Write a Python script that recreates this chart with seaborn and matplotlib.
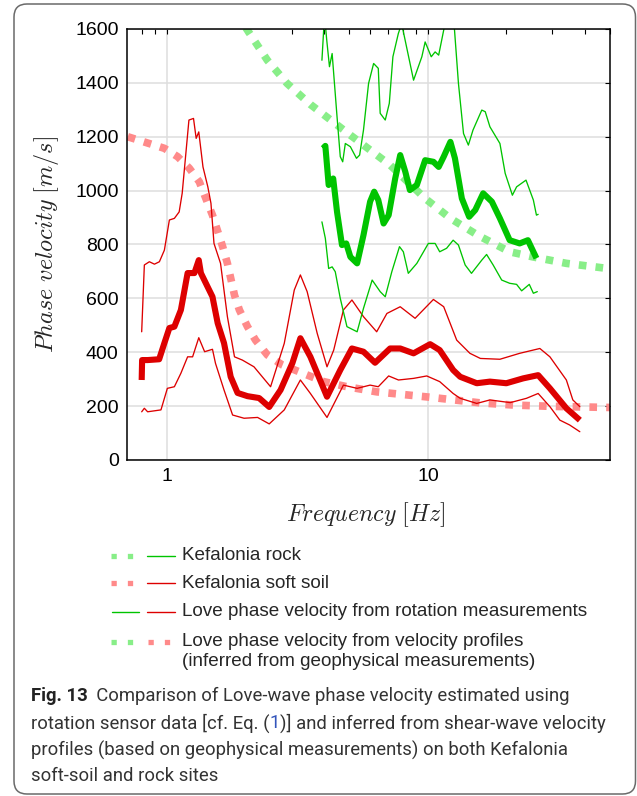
import matplotlib
matplotlib.use('Agg')
import matplotlib.pyplot as plt
from matplotlib import font_manager
from matplotlib.patches import FancyBboxPatch
from matplotlib.lines import Line2D
from matplotlib.transforms import IdentityTransform
from matplotlib.ticker import FixedLocator, NullFormatter, FuncFormatter
import seaborn as sns

# rotation-derived Love phase velocity, soft soil (median, upper, lower)
soil_f = [0.797, 0.80, 0.84, 0.93, 0.974, 1.018, 1.064, 1.127, 1.196, 1.27, 1.32, 1.345, 1.427, 1.49,
          1.56, 1.65, 1.75, 1.86, 2.03, 2.25, 2.46, 2.72, 3.02, 3.24, 3.54, 4.10, 4.61, 5.11, 5.66,
          6.27, 7.16, 7.83, 8.81, 10.2, 11.1, 12.5, 13.3, 15.4, 17.3, 20.0, 23.2, 26.5, 29.4, 34.0, 38.3]
soil_v = [297, 371, 371, 374, 434, 490, 495, 557, 694, 694, 742, 694, 643, 606,
          508, 434, 309, 249, 237, 230, 197, 260, 360, 452, 383, 235, 334, 414, 402,
          361, 414, 414, 396, 430, 408, 334, 309, 285, 291, 285, 303, 315, 266, 192, 148]

soil_up_f = [0.797, 0.816, 0.853, 0.892, 0.932, 0.974, 1.018, 1.064, 1.11, 1.14, 1.21, 1.26, 1.29, 1.32,
             1.37, 1.43, 1.47, 1.51, 1.60, 1.70, 1.81, 1.94, 2.15, 2.49, 2.81, 3.07, 3.24, 3.44, 3.76,
             4.10, 4.35, 4.74, 5.11, 5.66, 6.36, 6.96, 7.83, 8.93, 10.5, 11.5, 12.9, 14.5, 15.9, 18.9,
             22.5, 26.9, 29.4, 34.0, 36.0, 38.3]
soil_up_v = [476, 724, 736, 727, 736, 779, 891, 897, 921, 990, 1262, 1268, 1194, 1218,
             1088, 1014, 953, 804, 730, 532, 383, 371, 346, 272, 433, 631, 687, 625, 470,
             346, 408, 557, 594, 532, 476, 544, 569, 526, 596, 569, 445, 396, 377, 374,
             396, 414, 383, 297, 223, 198]

soil_lo_f = [0.797, 0.816, 0.84, 0.945, 1.00, 1.064, 1.127, 1.196, 1.25, 1.32, 1.39, 1.49, 1.53, 1.65,
             1.78, 1.97, 2.22, 2.46, 2.81, 3.24, 3.54, 4.10, 4.74, 5.35, 6.0, 6.45, 7.07, 7.71, 8.81,
             9.9, 11.1, 12.5, 13.3, 15.4, 17.3, 20.7, 23.9, 26.5, 29.4, 32.1, 35.0, 38.3]
soil_lo_v = [179, 192, 179, 186, 266, 272, 322, 383, 383, 454, 402, 411, 359, 260,
             167, 155, 158, 134, 186, 297, 247, 158, 278, 266, 278, 272, 312, 297, 303,
             312, 291, 247, 229, 210, 223, 213, 229, 247, 198, 148, 130, 105]

# rotation-derived Love phase velocity, rock (median, upper, lower)
rock_f = [3.96, 4.04, 4.16, 4.33, 4.48, 4.68, 4.86, 5.04, 5.35, 5.66, 6.0, 6.22, 6.45, 6.76, 7.07,
          7.49, 7.83, 8.19, 8.53, 9.07, 9.76, 10.5, 11.0, 11.5, 12.2, 12.7, 13.5, 14.4, 15.2, 16.3,
          17.6, 18.9, 20.6, 22.5, 24.2, 26.1]
rock_v = [1157, 1166, 1021, 1045, 921, 798, 804, 754, 730, 835, 959, 996, 965, 878, 909,
          1045, 1132, 1070, 1002, 1021, 1113, 1107, 1088, 1126, 1181, 1120, 971, 903, 928, 990,
          959, 897, 816, 804, 816, 749]

rock_up_f = [3.92, 4.01, 4.09, 4.19, 4.29, 4.48, 4.61, 4.71, 4.82, 5.04, 5.32, 5.47, 5.66, 5.92, 6.19,
             6.45, 6.56, 6.86, 7.11, 7.34, 7.70, 7.93, 8.81, 9.48, 9.76, 10.3, 10.66, 11.0, 11.5, 11.8,
             12.6, 13.1, 13.7, 14.3, 14.9, 16.1, 16.6, 17.3, 18.9, 19.8, 21.1, 21.9, 23.8, 25.4, 26.1, 26.5]
rock_up_v = [1484, 1650, 1559, 1460, 1509, 1274, 1126, 1107, 1175, 1163, 1120, 1132, 1225, 1398, 1472,
             1454, 1287, 1262, 1324, 1497, 1583, 1620, 1410, 1497, 1552, 1497, 1515, 1503, 1596, 1650,
             1620, 1398, 1212, 1169, 1225, 1299, 1293, 1237, 1175, 1064, 983, 1014, 1039, 965, 909, 912]

rock_lo_f = [3.92, 4.04, 4.16, 4.29, 4.41, 4.61, 4.89, 5.35, 5.66, 6.11, 6.56, 6.86, 7.27, 7.78, 8.05,
             8.41, 9.07, 10.04, 10.66, 11.1, 11.8, 12.5, 13.1, 13.9, 14.7, 16.1, 16.8, 17.8, 19.2, 20.6,
             21.9, 22.9, 24.5, 25.4, 26.3]
rock_lo_v = [884, 823, 711, 717, 699, 600, 495, 476, 563, 668, 625, 606, 699, 792, 773,
             693, 730, 804, 804, 773, 786, 816, 798, 724, 693, 742, 763, 724, 668, 656,
             652, 628, 652, 619, 625]

# phase velocity from velocity profiles
prof_rock_f = [2.0, 2.42, 2.88, 3.54, 5.04, 7.16, 9.76, 12.2, 15.7, 20.6, 25.3, 34.0, 50.0]
prof_rock_v = [1605, 1484, 1398, 1320, 1206, 1095, 971, 897, 832, 773, 754, 730, 710]

prof_soil_f = [0.705, 0.974, 1.095, 1.214, 1.326, 1.405, 1.49, 1.63, 1.70, 1.81, 1.89, 2.03, 2.18,
               2.42, 2.76, 3.16, 3.98, 4.89, 6.36, 10.2, 15.9, 21.3, 30.0, 50.0]
prof_soil_v = [1200, 1157, 1126, 1083, 1033, 971, 909, 792, 730, 612, 557, 495, 445,
               390, 353, 330, 291, 272, 253, 233, 212, 204, 199, 195]

legend_labels = ['Kefalonia rock', 'Kefalonia soft soil',
                 'Love phase velocity from rotation measurements',
                 'Love phase velocity from velocity profiles',
                 '(inferred from geophysical measurements)']

GREEN = '#00c400'
RED = '#dd0000'
LGREEN = '#88ee88'
LRED = '#ff8a8a'

W, H = 637, 796


def fx(x):
    return x / W


def fy(y):
    return 1 - y / H


def pick_font(names):
    for n in names:
        try:
            font_manager.findfont(n, fallback_to_default=False)
            return n
        except Exception:
            pass
    return 'DejaVu Sans'


sns.set_style('white')
plt.rcParams['font.family'] = ['Liberation Sans', 'DejaVu Sans']
plt.rcParams['mathtext.fontset'] = 'cm'
cap_font = pick_font(['Liberation Sans Narrow', 'Roboto', 'Open Sans'])

fig = plt.figure(figsize=(W / 100, H / 100), dpi=100)
fig.patch.set_facecolor('white')
ax = fig.add_axes([fx(127), fy(460), (610 - 127) / W, (460 - 29) / H])
ax.set_xscale('log')

dot = dict(lw=5.5, linestyle=(0, (1, 1.2)), dash_capstyle='butt', estimator=None, sort=False)
sns.lineplot(x=prof_rock_f, y=prof_rock_v, ax=ax, color=LGREEN, **dot)
sns.lineplot(x=prof_soil_f, y=prof_soil_v, ax=ax, color=LRED, **dot)

thin = dict(lw=0.95, estimator=None, sort=False)
thick = dict(lw=4.4, estimator=None, sort=False, solid_capstyle='butt', solid_joinstyle='round')
sns.lineplot(x=soil_up_f, y=soil_up_v, ax=ax, color=RED, **thin)
sns.lineplot(x=soil_lo_f, y=soil_lo_v, ax=ax, color=RED, **thin)
sns.lineplot(x=soil_f, y=soil_v, ax=ax, color=RED, **thick)
sns.lineplot(x=rock_up_f, y=rock_up_v, ax=ax, color=GREEN, **thin)
sns.lineplot(x=rock_lo_f, y=rock_lo_v, ax=ax, color=GREEN, **thin)
sns.lineplot(x=rock_f, y=rock_v, ax=ax, color=GREEN, **thick)

ax.set_xlim(0.7, 50)
ax.set_ylim(0, 1600)
ax.set_yticks(range(0, 1601, 200))
ax.xaxis.set_major_locator(FixedLocator([1, 10]))
ax.xaxis.set_major_formatter(FuncFormatter(lambda v, p: '%g' % v))
ax.xaxis.set_minor_locator(FixedLocator([0.8, 0.9, 2, 3, 4, 5, 6, 7, 8, 9, 20, 30, 40, 50]))
ax.xaxis.set_minor_formatter(NullFormatter())
ax.grid(True, which='major', color='#dedede', lw=1.1)
ax.set_axisbelow(True)
ax.tick_params(which='both', direction='in', length=3.6, width=0.8, top=True, right=True,
               labelsize=14, pad=6, colors='black')
for s in ax.spines.values():
    s.set_visible(True)
    s.set_color('black')
    s.set_linewidth(1.1)

ax.set_ylabel(r'$Phase\ velocity\ [m/s]$', fontsize=17.4)
ax.yaxis.set_label_coords((47 - 127) / 483, 0.5)
ax.yaxis.label.set_va('center')
ax.set_xlabel(r'$Frequency\ [Hz]$', fontsize=17.2)
ax.xaxis.set_label_coords((366 - 127) / 483, (460 - 515) / 431)
ax.xaxis.label.set_va('center')

# legend drawn by hand below the axes
def seg(x0, x1, y, color, dotted):
    if dotted:
        ln = Line2D([fx(x0), fx(x1)], [fy(y), fy(y)], transform=fig.transFigure, color=color,
                    lw=3.8, linestyle=(0, (1, 2.1)), dash_capstyle='butt')
    else:
        ln = Line2D([fx(x0), fx(x1)], [fy(y), fy(y)], transform=fig.transFigure, color=color, lw=1.0)
    fig.add_artist(ln)


rows = [556, 583, 612, 642]
seg(110.7, 133, rows[0], LGREEN, True)
seg(147, 175, rows[0], GREEN, False)
seg(110.7, 133, rows[1], LRED, True)
seg(147, 175, rows[1], RED, False)
seg(111.7, 139, rows[2], GREEN, False)
seg(147, 175, rows[2], RED, False)
seg(110.7, 133, rows[3], LGREEN, True)
seg(147.5, 170, rows[3], LRED, True)
for y, t in zip(rows + [662], legend_labels):
    fig.text(fx(181.7), fy(y), t, fontsize=13.6, va='center', ha='left')

# caption, size fitted so the first line spans like the original
renderer = fig.canvas.get_renderer()
cap_lines = [
    [('Fig. 13', 'bold', '#222222'),
     ('  Comparison of Love-wave phase velocity estimated using', 'normal', '#333333')],
    [('rotation sensor data [cf. Eq. (', 'normal', '#333333'), ('1', 'normal', '#3355bb'),
     (')] and inferred from shear-wave velocity', 'normal', '#333333')],
    [('profiles (based on geophysical measurements) on both Kefalonia', 'normal', '#333333')],
    [('soft-soil and rock sites', 'normal', '#333333')],
]


def line_width(parts, size):
    w = 0
    for txt, weight, color in parts:
        t = fig.text(0, 0, txt, fontsize=size, family=[cap_font, 'DejaVu Sans'], fontweight=weight)
        w += t.get_window_extent(renderer).width
        t.remove()
    return w


cap_size = 14.0 * 578 / line_width(cap_lines[1], 14.0)


def put_line(x, y, parts):
    for txt, weight, color in parts:
        t = fig.text(fx(x), fy(y), txt, fontsize=cap_size, family=[cap_font, 'DejaVu Sans'],
                     fontweight=weight, color=color, va='center', ha='left')
        x += t.get_window_extent(renderer).width


for y, parts in zip([696, 723, 750, 776], cap_lines):
    put_line(30.7, y, parts)

frame = FancyBboxPatch((14, H - 794), 621.5, 790, boxstyle='round,pad=0,rounding_size=13',
                       transform=IdentityTransform(), fill=False, edgecolor='#6a6a6a', lw=1.1)
fig.add_artist(frame)

fig.savefig('out.png', dpi=100)
